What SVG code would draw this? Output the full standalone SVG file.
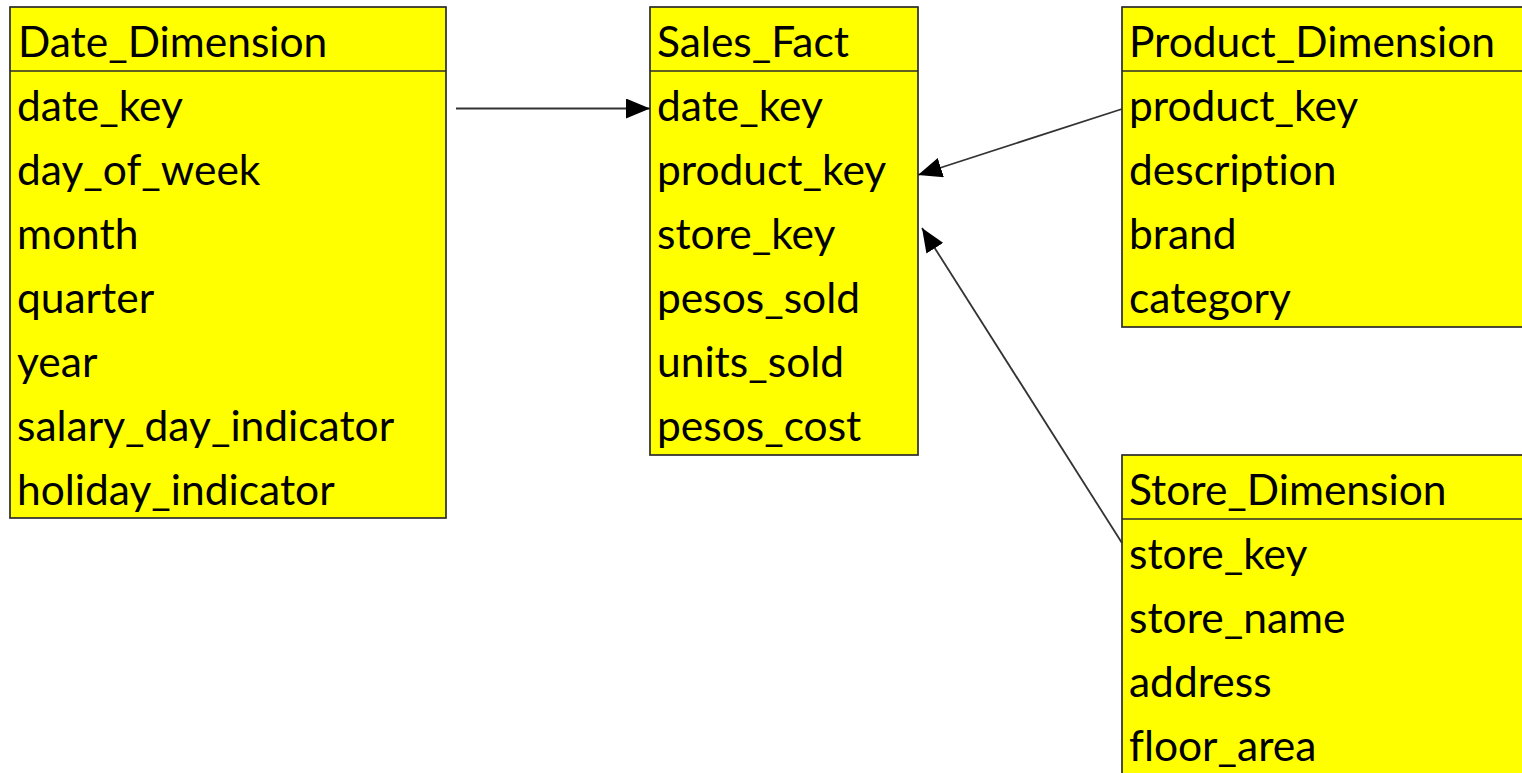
<svg xmlns="http://www.w3.org/2000/svg" width="1522" height="773" viewBox="0 0 1522 773">
  <style>
    .box { fill: #ffff00; stroke: #2b2b2b; stroke-width: 1.7; }
    .sep { stroke: #2b2b2b; stroke-width: 1.7; }
    .t { font-family: Lato, "Liberation Sans", sans-serif; font-size: 42.5px; fill: #000; font-variant-ligatures: none; }
    .link { stroke: #333; stroke-width: 1.8; fill: none; marker-end: url(#head); }
  </style>
  <defs>
    <marker id="head" viewBox="0 0 24 20" refX="24" refY="10" markerWidth="24" markerHeight="20" markerUnits="userSpaceOnUse" orient="auto">
      <path d="M0,0 L24,10 L0,20 Z" fill="#000"/>
    </marker>
  </defs>

  <rect width="1522" height="773" fill="#fff"/>

  <!-- Date dimension table -->
  <g id="date_dimension">
    <rect class="box" x="10" y="7" width="436" height="511"/>
    <line class="sep" x1="10" y1="71" x2="446" y2="71"/>
    <text class="t" x="18" y="57">Date_Dimension</text>
    <text class="t" x="17" y="121">date_key</text>
    <text class="t" x="17" y="185">day_of_week</text>
    <text class="t" x="17" y="249">month</text>
    <text class="t" x="17" y="313">quarter</text>
    <text class="t" x="17" y="377">year</text>
    <text class="t" x="17" y="441">salary_day_indicator</text>
    <text class="t" x="17" y="505">holiday_indicator</text>
  </g>

  <!-- Sales fact table -->
  <g id="sales_fact">
    <rect class="box" x="650" y="7" width="268" height="448"/>
    <line class="sep" x1="650" y1="71" x2="918" y2="71"/>
    <text class="t" x="657" y="57">Sales_Fact</text>
    <text class="t" x="657" y="121">date_key</text>
    <text class="t" x="657" y="185">product_key</text>
    <text class="t" x="657" y="249">store_key</text>
    <text class="t" x="657" y="313">pesos_sold</text>
    <text class="t" x="657" y="377">units_sold</text>
    <text class="t" x="657" y="441">pesos_cost</text>
  </g>

  <!-- Product dimension table -->
  <g id="product_dimension">
    <rect class="box" x="1122" y="7" width="420" height="320"/>
    <line class="sep" x1="1122" y1="71" x2="1530" y2="71"/>
    <text class="t" x="1129" y="57">Product_Dimension</text>
    <text class="t" x="1129" y="121">product_key</text>
    <text class="t" x="1129" y="185">description</text>
    <text class="t" x="1129" y="249">brand</text>
    <text class="t" x="1129" y="313">category</text>
  </g>

  <!-- Store dimension table -->
  <g id="store_dimension">
    <rect class="box" x="1122" y="455" width="420" height="340"/>
    <line class="sep" x1="1122" y1="519" x2="1530" y2="519"/>
    <text class="t" x="1129" y="505">Store_Dimension</text>
    <text class="t" x="1129" y="569">store_key</text>
    <text class="t" x="1129" y="633">store_name</text>
    <text class="t" x="1129" y="697">address</text>
    <text class="t" x="1129" y="761">floor_area</text>
  </g>

  <!-- Foreign key links -->
  <g id="connectors">
    <line class="link" x1="456" y1="108.5" x2="650" y2="108.5"/>
    <line class="link" x1="1122" y1="109" x2="918" y2="175"/>
    <line class="link" x1="1122" y1="543" x2="922" y2="228"/>
  </g>
</svg>
